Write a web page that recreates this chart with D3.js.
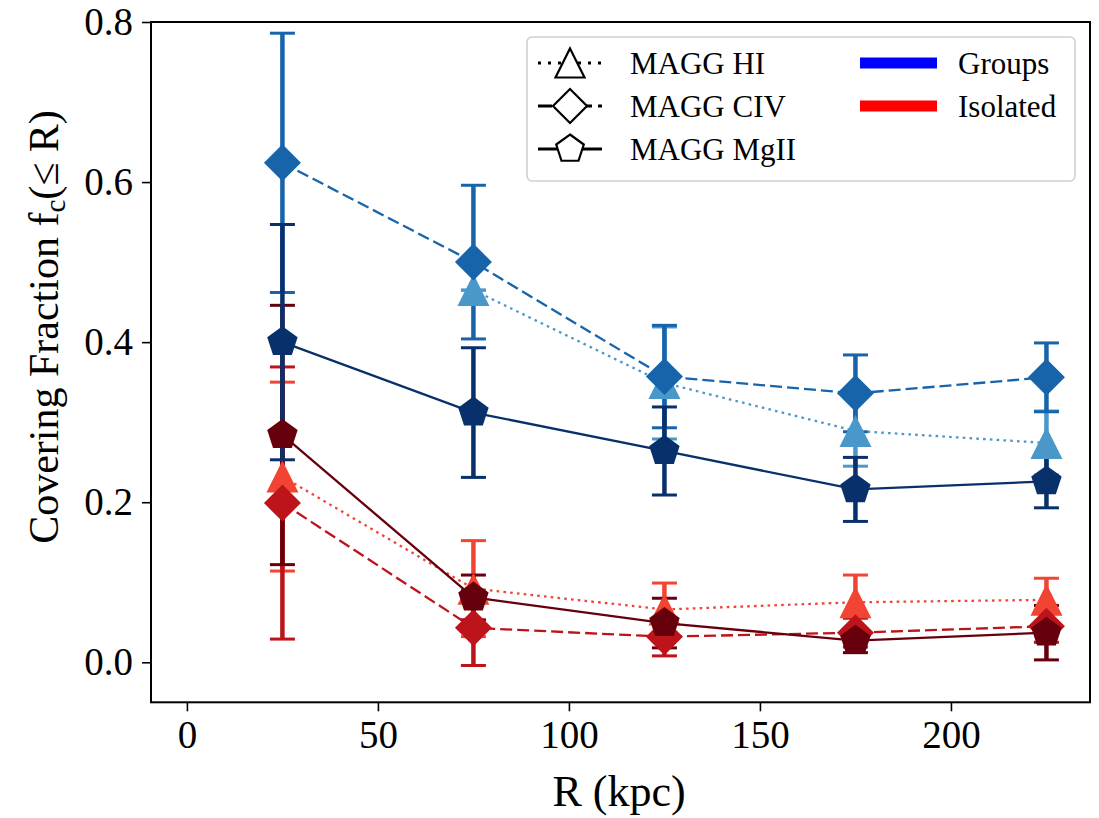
<!DOCTYPE html>
<html>
<head>
<meta charset="utf-8">
<script src="https://cdn.jsdelivr.net/npm/d3@7"></script>
<style>
  body { margin: 0; background: #fff; }
  text { font-family: "Liberation Serif", "DejaVu Serif", serif; fill: #000; }
</style>
</head>
<body>
<script>
// radii (kpc)
var R = [25, 75, 125, 175, 225];

// groups
var grpHI = [null, 0.465, 0.349, 0.289, 0.274];
var grpHIerr = [null, 0.0, 0.07, 0.044, 0.04];
var grpCIV = [0.624, 0.5, 0.357, 0.336, 0.356];
var grpCIVerr = [0.162, 0.096, 0.064, 0.048, 0.043];
var grpMgII = [0.40, 0.312, 0.264, 0.216, 0.226];
var grpMgIIerr = [0.147, 0.081, 0.055, 0.04, 0.033];

// isolated
var isoHI = [0.232, 0.092, 0.066, 0.075, 0.078];
var isoHIerr = [0.118, 0.06, 0.033, 0.034, 0.027];
var isoCIV = [0.199, 0.043, 0.032, 0.037, 0.045];
var isoCIVerr = [0.17, 0.047, 0.024, 0.018, 0.02];
var isoMgII = [0.284, 0.081, 0.049, 0.027, 0.037];
var isoMgIIerr = [0.162, 0.028, 0.031, 0.015, 0.034];

var xTicks = [0, 50, 100, 150, 200];
var yTicks = [0.0, 0.2, 0.4, 0.6, 0.8];

var w = 1099;
var h = 818;
var margin = { top: 22, left: 151, bottom: 115.7, right: 9 };
var width = w - margin.left - margin.right;
var height = h - margin.top - margin.bottom;

var svg = d3.select("body")
  .append("svg")
  .attr("width", w)
  .attr("height", h);

var g = svg.append("g")
  .attr("transform", "translate(" + margin.left + "," + margin.top + ")");

var x = d3.scaleLinear().domain([-9.4, 236.4]).range([0, width]);
var y = d3.scaleLinear().domain([-0.05, 0.8]).range([height, 0]);

// marker shapes, centred on 0,0
function triangle(s) {
  return "M0," + (-s) + "L" + s + "," + s + "L" + (-s) + "," + s + "Z";
}
function diamond(s) {
  return "M0," + (-s) + "L" + s + ",0L0," + s + "L" + (-s) + ",0Z";
}
function pentagon(s) {
  var p = d3.range(5).map(function(k) {
    var a = -Math.PI / 2 + k * 2 * Math.PI / 5;
    return [s * Math.cos(a), s * Math.sin(a)];
  });
  return "M" + p.join("L") + "Z";
}

var series = [
  { v: isoHI, e: isoHIerr, color: "#f14432", shape: triangle, size: 16, dash: "2.6,4.2" },
  { v: isoCIV, e: isoCIVerr, color: "#bc141a", shape: diamond, size: 18.5, dash: "12,5" },
  { v: isoMgII, e: isoMgIIerr, color: "#67000d", shape: pentagon, size: 16, dash: null },
  { v: grpHI, e: grpHIerr, color: "#4a98c9", shape: triangle, size: 16, dash: "2.6,4.2" },
  { v: grpCIV, e: grpCIVerr, color: "#1764ab", shape: diamond, size: 18.5, dash: "12,5" },
  { v: grpMgII, e: grpMgIIerr, color: "#08306b", shape: pentagon, size: 16, dash: null }
];

function points(s) {
  return R.map(function(r, i) { return { r: r, v: s.v[i], e: s.e[i] }; })
    .filter(function(d) { return d.v !== null; });
}

// error bars first (below every line and marker)
series.forEach(function(s) {
  var eg = g.append("g");
  var pts = points(s);
  eg.selectAll(".bar")
    .data(pts)
    .enter()
    .append("line")
    .attr("x1", function(d) { return x(d.r); })
    .attr("x2", function(d) { return x(d.r); })
    .attr("y1", function(d) { return y(d.v - d.e); })
    .attr("y2", function(d) { return y(d.v + d.e); })
    .attr("stroke", s.color)
    .attr("stroke-width", 4.5);
  [-1, 1].forEach(function(sign) {
    eg.selectAll(".cap" + sign)
      .data(pts)
      .enter()
      .append("line")
      .attr("x1", function(d) { return x(d.r) - 12.5; })
      .attr("x2", function(d) { return x(d.r) + 12.5; })
      .attr("y1", function(d) { return y(d.v + sign * d.e); })
      .attr("y2", function(d) { return y(d.v + sign * d.e); })
      .attr("stroke", s.color)
      .attr("stroke-width", 3);
  });
});

// connecting lines and markers
series.forEach(function(s) {
  var pts = points(s);
  var line = d3.line()
    .x(function(d) { return x(d.r); })
    .y(function(d) { return y(d.v); });
  g.append("path")
    .datum(pts)
    .attr("d", line)
    .attr("fill", "none")
    .attr("stroke", s.color)
    .attr("stroke-width", 2.3)
    .attr("stroke-dasharray", s.dash);
  g.selectAll(null)
    .data(pts)
    .enter()
    .append("path")
    .attr("transform", function(d) { return "translate(" + x(d.r) + "," + y(d.v) + ")"; })
    .attr("d", s.shape(s.size))
    .attr("fill", s.color);
});

// axes
var xAxis = g.append("g")
  .attr("transform", "translate(0," + height + ")")
  .call(d3.axisBottom(x).tickValues(xTicks).tickSize(9).tickPadding(9).tickFormat(d3.format("d")));
var yAxis = g.append("g")
  .call(d3.axisLeft(y).tickValues(yTicks).tickSize(9).tickPadding(9).tickFormat(d3.format(".1f")));
[xAxis, yAxis].forEach(function(a) {
  a.select(".domain").remove();
  a.selectAll("line").attr("stroke", "#000").attr("stroke-width", 1.6);
  a.selectAll("text").attr("font-size", 39).attr("font-family", "Liberation Serif");
});

g.append("rect")
  .attr("width", width)
  .attr("height", height)
  .attr("fill", "none")
  .attr("stroke", "#000")
  .attr("stroke-width", 2);

// axis labels
svg.append("text")
  .attr("x", 619)
  .attr("y", 806)
  .attr("text-anchor", "middle")
  .attr("font-size", 44)
  .text("R (kpc)");

var yl = svg.append("text")
  .attr("transform", "translate(58,327) rotate(-90)")
  .attr("text-anchor", "middle")
  .attr("font-size", 42);
yl.append("tspan").text("Covering Fraction f");
yl.append("tspan").attr("font-size", 29).attr("dy", 7).text("c");
yl.append("tspan").attr("dy", -7).text("(≤ R)");

// legend
var leg = svg.append("g").attr("transform", "translate(527,37)");
leg.append("rect")
  .attr("width", 548)
  .attr("height", 144)
  .attr("rx", 5)
  .attr("fill", "#fff")
  .attr("fill-opacity", 0.8)
  .attr("stroke", "#d0d0d0")
  .attr("stroke-width", 1.6);

var ionNames = ["MAGG HI", "MAGG CIV", "MAGG MgII"];
var ionStyle = series.slice(0, 3);
ionNames.forEach(function(name, i) {
  var cy = 26 + i * 43;
  var row = leg.append("g").attr("transform", "translate(0," + cy + ")");
  row.append("line")
    .attr("x1", 11).attr("x2", 75)
    .attr("stroke", "#000")
    .attr("stroke-width", 3)
    .attr("stroke-dasharray", ionStyle[i].dash ? (i === 0 ? "3,7" : "14,6") : null);
  row.append("path")
    .attr("transform", "translate(43,0)")
    .attr("d", ionStyle[i].shape(i === 1 ? 17 : 14.5))
    .attr("fill", "#fff")
    .attr("stroke", "#000")
    .attr("stroke-width", 2.2);
  row.append("text")
    .attr("x", 103)
    .attr("dy", "0.35em")
    .attr("font-size", 31)
    .text(name);
});

var catNames = ["Groups", "Isolated"];
var catColors = ["#0000ff", "#ff0000"];
catNames.forEach(function(name, i) {
  var cy = 26 + i * 43;
  leg.append("rect")
    .attr("x", 333).attr("y", cy - 5.5)
    .attr("width", 77).attr("height", 11)
    .attr("fill", catColors[i]);
  leg.append("text")
    .attr("x", 431)
    .attr("y", cy)
    .attr("dy", "0.35em")
    .attr("font-size", 31)
    .text(name);
});
</script>
</body>
</html>
